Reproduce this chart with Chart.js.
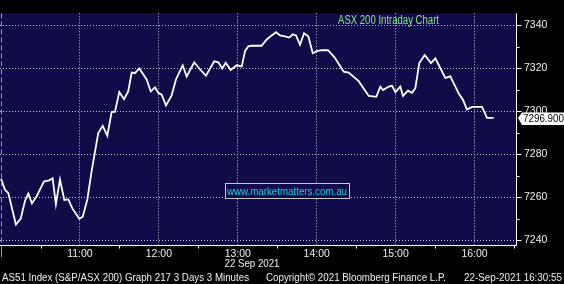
<!DOCTYPE html>
<html><head><meta charset="utf-8">
<script src="https://cdn.jsdelivr.net/npm/chart.js@4.4.1/dist/chart.umd.min.js"></script>
<style>html,body{margin:0;padding:0;background:#000;}#wrap{width:564px;height:284px;}</style>
</head><body><div id="wrap"><canvas id="c" width="564" height="284"></canvas></div>
<script>
// minutes after 10:00 on 22 Sep 2021
const minutes = [0,3,5.5,11.3,14.9,18.2,20.7,23.5,27.1,32.6,
36.7,39.2,41.7,44.8,48.1,51.1,54.4,59.5,62.1,65.6,
68.9,71.4,73.9,77.3,80.8,84.1,86.6,89.9,93.5,96.7,
99.3,101.8,105.1,110.7,113.8,117.0,119.5,122.1,125.4,129.7,
133.0,138.1,141.1,146.9,150.7,155.8,162.1,165.2,168.2,170.8,
174.6,179.2,183.0,185.5,188.0,190.6,198.1,202.0,205.8,209.1,
212.1,215.9,219.2,221.8,224.3,227.3,230.4,233.6,237.0,240.0,
244.0,248.6,253.7,260.5,264.3,271.9,279.6,285.3,288.4,290.4,
294.8,297.3,299.8,303.6,305.6,309.4,312.5,315.0,318.0,322.1,
326.9,330.2,337.8,341.6,348.0,351.3,354.3,358.1,365.7,369.5,374.6];
const prices = [7268.5,7263.4,7261.9,7247.2,7249.9,7258.2,7261.6,7257.1,7260.4,7267.3,
7267.8,7268.8,7256.7,7268.2,7258.7,7258.9,7254.5,7249.9,7250.9,7258.9,
7272.2,7281.0,7289.8,7293.2,7288.6,7299.7,7299.7,7308.9,7305.6,7309.2,
7318.0,7317.7,7319.9,7314.8,7309.2,7311.1,7308.6,7307.7,7302.7,7307.4,
7314.8,7321.4,7316.2,7322.8,7319.9,7316.5,7323.3,7322.8,7319.9,7322.6,
7319.2,7321.4,7320.9,7328.0,7330.2,7330.5,7330.5,7333.4,7335.3,7336.8,
7335.3,7334.9,7334.3,7335.8,7335.3,7330.9,7336.3,7334.9,7327.0,7328.0,
7328.4,7328.4,7325.0,7318.4,7318.0,7314.0,7307.1,7306.7,7311.4,7309.9,
7311.5,7311.8,7308.9,7311.5,7307.1,7309.6,7308.6,7310.7,7322.4,7326.2,
7322.4,7324.6,7315.5,7316.2,7308.2,7305.2,7300.8,7302.0,7302.0,7296.9,7296.9];
const hourTicks = [60,120,180,240,300,360];
const hourLabels = ['11:00','12:00','13:00','14:00','15:00','16:00'];
const halfHourTicks = [30,90,150,210,270,330,390];
const priceTicks = [7240,7260,7280,7300,7320,7340];
const minorPriceTicks = [7250,7270,7290,7310,7330];
const titleText = 'ASX 200 Intraday Chart';
const watermarkText = 'www.marketmatters.com.au';
const dateText = '22 Sep 2021';
const footerLeft = 'AS51 Index (S&P/ASX 200) Graph 217 3 Days 3 Minutes';
const footerMid = 'Copyright\u00a9 2021 Bloomberg Finance L.P.';
const footerRight = '22-Sep-2021 16:30:55';

const NAVY = '#100c49';
const FONT = '"Liberation Sans", Arial, sans-serif';

const deco = {
  id: 'deco',
  beforeDraw(chart) {
    const {ctx, chartArea: a} = chart;
    ctx.save();
    ctx.fillStyle = '#000';
    ctx.fillRect(0, 0, chart.width, chart.height);
    ctx.fillStyle = NAVY;
    ctx.fillRect(a.left, a.top, a.right - a.left, a.bottom - a.top);
    ctx.restore();
  },
  afterDraw(chart) {
    const {ctx, chartArea: a, scales} = chart;
    const xs = scales.x, ys = scales.y;
    ctx.save();
    // left dashed separator
    ctx.strokeStyle = '#9494a4';
    ctx.lineWidth = 1;
    ctx.setLineDash([5, 3]);
    const x0 = Math.round(xs.getPixelForValue(0)) + 0.5;
    ctx.beginPath(); ctx.moveTo(x0, a.top); ctx.lineTo(x0, a.bottom); ctx.stroke();
    ctx.setLineDash([]);
    ctx.beginPath(); ctx.moveTo(x0, a.bottom); ctx.lineTo(x0, a.bottom + 12); ctx.stroke();
    // axis lines
    ctx.strokeStyle = '#ffffff';
    ctx.lineWidth = 1;
    const rx = Math.round(a.right) - 0.5, by = Math.round(a.bottom) + 0.5;
    ctx.beginPath(); ctx.moveTo(a.left, by); ctx.lineTo(rx, by); ctx.lineTo(rx, a.top); ctx.stroke();
    // y ticks
    priceTicks.forEach(v => {
      const y = Math.round(ys.getPixelForValue(v)) + 0.5;
      ctx.beginPath(); ctx.moveTo(rx, y); ctx.lineTo(rx + 5, y); ctx.stroke();
    });
    minorPriceTicks.forEach(v => {
      const y = Math.round(ys.getPixelForValue(v)) + 0.5;
      ctx.beginPath(); ctx.moveTo(rx, y); ctx.lineTo(rx + 3, y); ctx.stroke();
    });
    // x half-hour ticks
    halfHourTicks.forEach(v => {
      const x = Math.round(xs.getPixelForValue(v)) + 0.5;
      if (x > a.right) return;
      ctx.beginPath(); ctx.moveTo(x, by); ctx.lineTo(x, by + 3); ctx.stroke();
    });
    // title
    ctx.fillStyle = '#86e686';
    ctx.font = '12px ' + FONT;
    ctx.textBaseline = 'middle';
    ctx.textAlign = 'left';
    ctx.fillText(titleText, 338, 21, 101);
    // watermark box
    const wx = 225.5, wy = 183.5, ww = 124, wh = 15;
    ctx.fillStyle = NAVY;
    ctx.fillRect(wx, wy, ww, wh);
    ctx.strokeStyle = '#c8c8d0';
    ctx.strokeRect(wx, wy, ww, wh);
    ctx.fillStyle = '#19d3e6';
    ctx.font = '11.5px ' + FONT;
    ctx.fillText(watermarkText, 227, 191.5, 120);
    // last price label
    const last = prices[prices.length - 1];
    const ly = ys.getPixelForValue(last);
    ctx.fillStyle = '#ffffff';
    ctx.beginPath();
    ctx.moveTo(518, ly);
    ctx.lineTo(522, ly - 5.5);
    ctx.lineTo(564, ly - 5.5);
    ctx.lineTo(564, ly + 7);
    ctx.lineTo(522, ly + 7);
    ctx.closePath();
    ctx.fill();
    ctx.fillStyle = '#000';
    ctx.font = '10.5px ' + FONT;
    ctx.fillText(last.toFixed(3), 523, ly + 1, 41);
    // bottom texts
    ctx.fillStyle = '#f0f0f0';
    ctx.textAlign = 'center';
    ctx.textBaseline = 'alphabetic';
    ctx.font = '10.5px ' + FONT;
    ctx.fillText(dateText, 252, 267, 55);
    ctx.textAlign = 'left';
    ctx.fillText(footerLeft, 2, 281, 247);
    ctx.fillText(footerMid, 266, 281, 180);
    ctx.fillText(footerRight, 464, 281, 98);
    ctx.restore();
  }
};

new Chart(document.getElementById('c'), {
  type: 'line',
  data: {
    datasets: [{
      data: minutes.map((m, i) => ({x: m, y: prices[i]})),
      borderColor: '#ffffff',
      borderWidth: 1.8,
      pointRadius: 0,
      tension: 0,
      fill: false
    }]
  },
  options: {
    responsive: false,
    devicePixelRatio: 1,
    animation: false,
    layout: {padding: 0},
    plugins: {legend: {display: false}, tooltip: {enabled: false}},
    scales: {
      x: {
        type: 'linear',
        position: 'bottom',
        min: -0.8, max: 392.3,
        afterBuildTicks: s => { s.ticks = hourTicks.map(v => ({value: v})); },
        afterFit: s => { s.height = 39; },
        ticks: {
          color: '#f0f0f0',
          font: {family: FONT, size: 10.5},
          padding: 3,
          maxRotation: 0,
          autoSkip: false,
          callback: (v) => hourLabels[hourTicks.indexOf(v)]
        },
        grid: {color: '#c8c8ce', lineWidth: 1, drawTicks: false, borderDash: [1, 2]},
        border: {display: false, dash: [1, 2]}
      },
      y: {
        type: 'linear',
        position: 'right',
        min: 7237.7, max: 7345.6,
        afterBuildTicks: s => { s.ticks = priceTicks.map(v => ({value: v})); },
        afterFit: s => { s.width = 47; },
        ticks: {
          color: '#f0f0f0',
          font: {family: FONT, size: 10.5},
          padding: 7,
          callback: (v) => String(v)
        },
        grid: {color: '#c8c8ce', lineWidth: 1, drawTicks: false, borderDash: [1, 2]},
        border: {display: false, dash: [1, 2]}
      }
    }
  },
  plugins: [deco]
});
</script>
</body></html>
